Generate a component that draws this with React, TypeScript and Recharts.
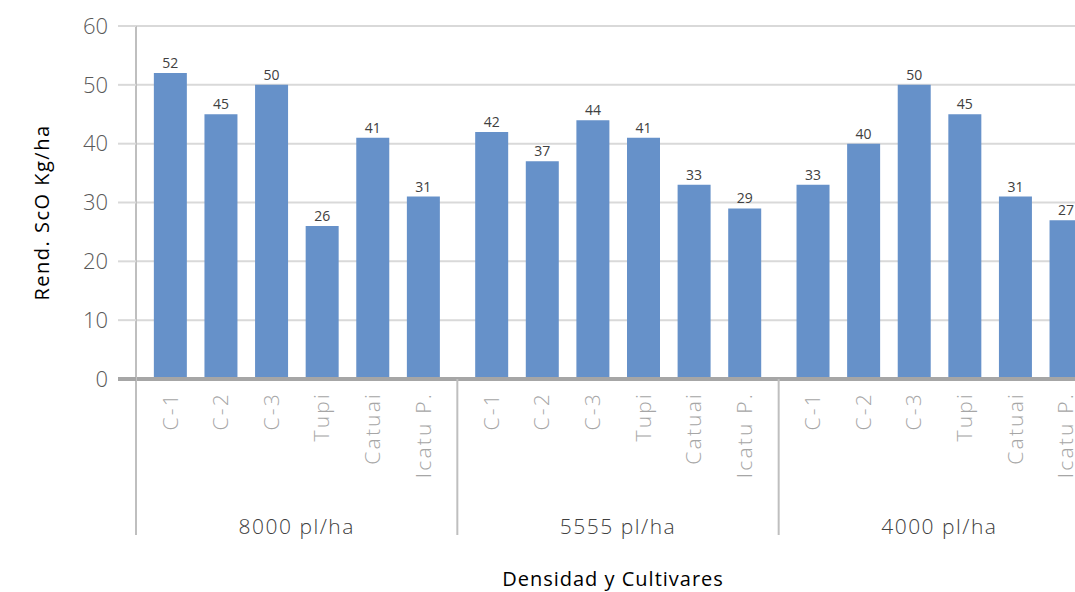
import React from "react";
import { BarChart, Bar, XAxis, YAxis, CartesianGrid, LabelList, Label } from "recharts";

// Cultivars repeated for each planting density
const cultivars = ["C-1", "C-2", "C-3", "Tupi", "Catuai", "Icatu P."];
const densities = ["8000 pl/ha", "5555 pl/ha", "4000 pl/ha"];

// Yield (Kg/ha) per cultivar, one list per density
const yield8000 = [52, 45, 50, 26, 41, 31];
const yield5555 = [42, 37, 44, 41, 33, 29];
const yield4000 = [33, 40, 50, 45, 31, 27];

const yTicks = [0, 10, 20, 30, 40, 50, 60];

// Each density block spans a little more than its six slots, leaving a wider gap between blocks
const GROUP_SPAN = 6.35;
const EDGE = (GROUP_SPAN - (cultivars.length - 1)) / 2;

const seriesByDensity = [yield8000, yield5555, yield4000];
const data = densities.flatMap((d, gi) =>
  cultivars.map((c, ci) => ({
    x: gi * GROUP_SPAN + EDGE + ci,
    name: c,
    group: d,
    value: seriesByDensity[gi][ci],
  }))
);

const xDomain = [0, densities.length * GROUP_SPAN];
const cultivarTicks = data.map((d) => d.x);
const boundaryTicks = densities.map((_, gi) => gi * GROUP_SPAN).concat([densities.length * GROUP_SPAN]);
const centerTicks = densities.map((_, gi) => gi * GROUP_SPAN + GROUP_SPAN / 2);
const groupAxisTicks = [...boundaryTicks, ...centerTicks].sort((a, b) => a - b);

const FONT = "'Open Sans', 'DejaVu Sans', sans-serif";
const near = (a: number, b: number) => Math.abs(a - b) < 1e-6;

const CultivarTick = (props: any) => {
  const { x, y, payload } = props;
  const item = data.find((d) => near(d.x, payload.value));
  if (!item) return null;
  const ty = y + 13;
  return (
    <text
      x={x}
      y={ty}
      transform={`rotate(-90, ${x}, ${ty})`}
      textAnchor="end"
      dy="0.35em"
      fill="#A6A6A6"
      fontFamily={FONT}
      fontWeight={300}
      fontSize={21}
      letterSpacing={2.2}
    >
      {item.name}
    </text>
  );
};

const GroupTick = (props: any) => {
  const { x, y, payload } = props;
  const v = payload.value;
  if (boundaryTicks.some((b) => near(b, v))) {
    return <line x1={x} x2={x} y1={y - 1} y2={y + 155} stroke="#BFBFBF" strokeWidth={2} />;
  }
  const gi = centerTicks.findIndex((c) => near(c, v));
  if (gi < 0) return null;
  return (
    <text x={x} y={y + 154} textAnchor="middle" fill="#404040" fontFamily={FONT} fontWeight={300} fontSize={21} letterSpacing={1.5}>
      {densities[gi]}
    </text>
  );
};

const YTick = (props: any) => {
  const { x, y, payload } = props;
  const zero = payload.value === 0;
  return (
    <g>
      <line x1={x + 10} x2={x + 28} y1={y} y2={y} stroke={zero ? "#A6A6A6" : "#D9D9D9"} strokeWidth={zero ? 4 : 2} />
      <text x={x} y={y} dy="0.35em" textAnchor="end" fill="#595959" fontFamily={FONT} fontWeight={300} fontSize={22}>
        {payload.value}
      </text>
    </g>
  );
};

export default function App() {
  return (
    <div style={{ position: "fixed", left: 0, top: 0, width: 1075, height: 592, overflow: "hidden", background: "#fff" }}>
      <BarChart width={1110} height={592} data={data} margin={{ top: 26, right: 10, left: 0, bottom: 0 }}>
        <CartesianGrid vertical={false} horizontal stroke="#D9D9D9" strokeWidth={2} />
        <XAxis
          dataKey="x"
          type="number"
          domain={xDomain}
          allowDataOverflow
          ticks={cultivarTicks}
          interval={0}
          height={1}
          tickLine={false}
          tickSize={0}
          tickMargin={0}
          axisLine={{ stroke: "#A6A6A6", strokeWidth: 4 }}
          tick={<CultivarTick />}
        />
        <XAxis
          xAxisId="groups"
          dataKey="x"
          type="number"
          domain={xDomain}
          allowDataOverflow
          ticks={groupAxisTicks}
          interval={0}
          height={212}
          tickLine={false}
          tickSize={0}
          tickMargin={0}
          axisLine={false}
          tick={<GroupTick />}
        >
          <Label
            content={(p: any) => {
              const vb = p.viewBox;
              return (
                <text x={vb.x + vb.width / 2 - 5} y={vb.y + 206} textAnchor="middle" fill="#000" fontFamily={FONT} fontSize={20} letterSpacing={1}>
                  Densidad y Cultivares
                </text>
              );
            }}
          />
        </XAxis>
        <YAxis
          width={136}
          domain={[0, 60]}
          ticks={yTicks}
          interval={0}
          tickSize={18}
          tickMargin={10}
          tickLine={false}
          axisLine={{ stroke: "#BFBFBF", strokeWidth: 2 }}
          tick={<YTick />}
        >
          <Label
            content={(p: any) => {
              const vb = p.viewBox;
              const cx = vb.x + 42;
              const cy = vb.y + vb.height / 2 + 10;
              return (
                <text x={cx} y={cy} transform={`rotate(-90, ${cx}, ${cy})`} textAnchor="middle" dy="0.35em" fill="#000" fontFamily={FONT} fontSize={20} letterSpacing={1.5}>
                  Rend. ScO Kg/ha
                </text>
              );
            }}
          />
        </YAxis>
        <Bar dataKey="value" fill="#6691C9" barSize={33} isAnimationActive={false}>
          <LabelList dataKey="value" position="top" offset={5} fill="#404040" fontFamily={FONT} fontSize={14} />
        </Bar>
      </BarChart>
    </div>
  );
}
